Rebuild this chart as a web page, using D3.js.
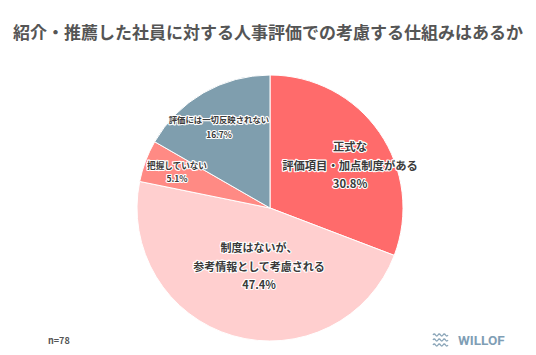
<!DOCTYPE html>
<html><head><meta charset="utf-8">
<script src="https://cdn.jsdelivr.net/npm/d3@7"></script>
<style>
html,body{margin:0;padding:0;background:#fff;}
svg{display:block;font-family:"Noto Sans CJK JP","Noto Sans",sans-serif;}
</style></head>
<body><svg id="c" width="536" height="355"></svg>
<script>
const title = "紹介・推薦した社員に対する人事評価での考慮する仕組みはあるか";
const categories = ["正式な評価項目・加点制度がある","制度はないが、参考情報として考慮される","把握していない","評価には一切反映されない"];
const values = [30.8, 47.4, 5.1, 16.7];
const labelLines = [["正式な","評価項目・加点制度がある","30.8%"],["制度はないが、","参考情報として考慮される","47.4%"],["把握していない","5.1%"],["評価には一切反映されない","16.7%"]];
const colors = ["#FF6B6B","#FFCFCF","#FF8A84","#7F9EAE"];
const note = "n=78";

const svg = d3.select("#c");
const cx = 270, cy = 208, r = 133;

svg.append("text").attr("x",268).attr("y",39).attr("text-anchor","middle")
  .attr("font-size",17).attr("font-weight","bold").attr("fill","#555").text(title);

const pie = d3.pie().sort(null).value(d=>d)(values);
const arc = d3.arc().innerRadius(0).outerRadius(r);
const g = svg.append("g").attr("transform",`translate(${cx},${cy})`);
g.selectAll("path").data(pie).join("path").attr("d",arc)
  .attr("fill",(d,i)=>colors[i]).attr("stroke","#fff").attr("stroke-width",1);

const labelCfg = [
  {x:80, y:-57, fs:11.3, lh:18.5},
  {x:-11, y:44, fs:11, lh:18.5},
  {x:-93, y:-39, fs:8.6, lh:12.5},
  {x:-51, y:-85, fs:8.4, lh:15}
];
labelCfg.forEach((c,i)=>{
  const t = g.append("text").attr("text-anchor","middle").attr("font-size",c.fs)
    .attr("font-weight","bold").attr("fill","#3a3a3a")
    .attr("stroke","#fff").attr("stroke-width",2.2).attr("stroke-linejoin","round")
    .attr("paint-order","stroke");
  labelLines[i].forEach((ln,k)=>{
    t.append("tspan").attr("x",c.x).attr("y",c.y + k*c.lh).text(ln);
  });
});

svg.append("text").attr("x",48).attr("y",344).attr("font-size",9).attr("font-weight","bold")
  .attr("fill","#555").text(note);

// logo
const lg = svg.append("g").attr("fill","none").attr("stroke","#8AA5B8").attr("stroke-width",1.3);
[335,340,345].forEach(y=>{
  let d = `M433,${y}`;
  for(let k=0;k<3;k++){ d += ` q1.25,-2 2.5,0 t2.5,0`; }
  lg.append("path").attr("d",d);
});
svg.append("text").attr("x",458).attr("y",345).attr("font-size",13.5).attr("font-weight","bold")
  .attr("fill","#7F9EB5").attr("font-family","Roboto,'DejaVu Sans',sans-serif").text("WILLOF");
</script></body></html>
